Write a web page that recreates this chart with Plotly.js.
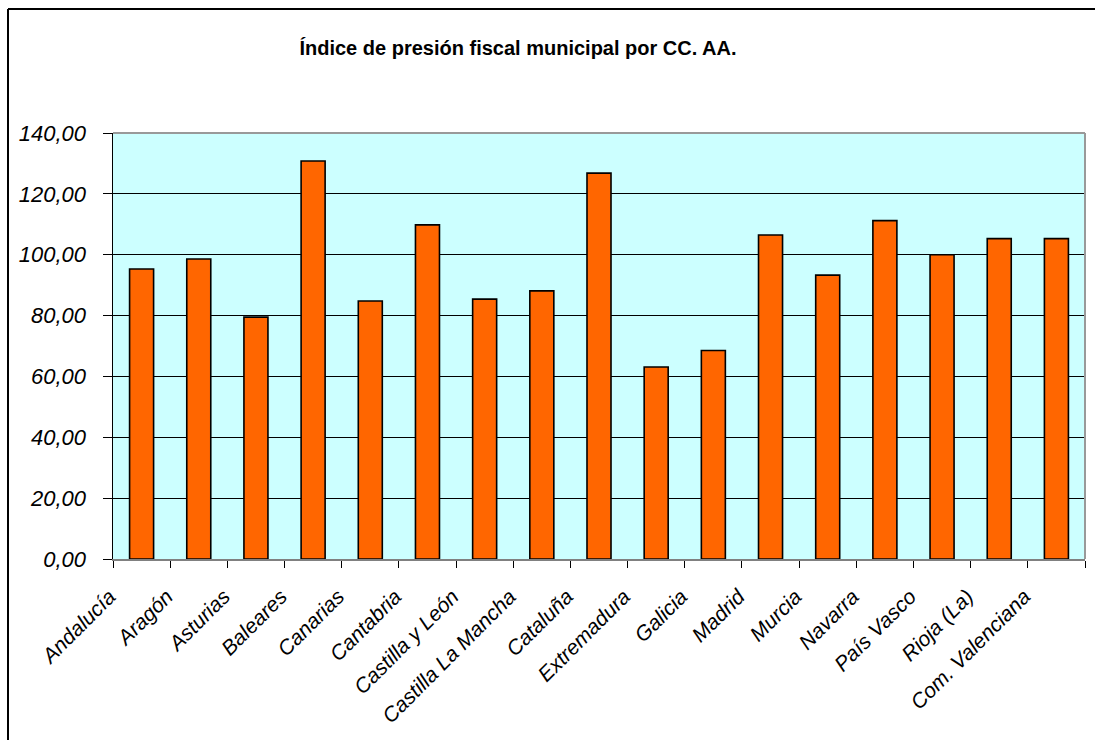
<!DOCTYPE html>
<html>
<head>
<meta charset="utf-8">
<script src="https://cdn.plot.ly/plotly-3.0.1.min.js"></script>
<style>
  html, body { margin: 0; padding: 0; background: #ffffff; }
  #chart { width: 1095px; height: 740px; }
</style>
</head>
<body>
<div id="chart"></div>
<script>
const categories = ["Andalucía", "Aragón", "Asturias", "Baleares", "Canarias", "Cantabria",
  "Castilla y León", "Castilla La Mancha", "Cataluña", "Extremadura", "Galicia", "Madrid",
  "Murcia", "Navarra", "País Vasco", "Rioja (La)", "Com. Valenciana"];
const values = [95.3, 98.6, 79.5, 130.8, 84.8, 109.8, 85.4, 88.1, 126.8, 63.1, 68.5, 106.5,
  93.3, 111.2, 100.0, 105.3, 105.3];
const yTicks = [0, 20, 40, 60, 80, 100, 120, 140];
const titleText = "Índice de presión fiscal municipal por CC. AA.";

const W = 1095, ML = 113, MR = 10, MT = 133, MB = 181, H = 740;
const pw = W - ML - MR, ph = H - MT - MB;
const px = v => (v - ML) / pw;
const py = v => (H - MB - v) / ph;

const font = "'Liberation Sans Narrow', 'Liberation Sans', Arial, sans-serif";

const trace = {
  type: "bar",
  x: categories,
  y: values,
  marker: { color: "#FF6600", line: { color: "#000000", width: 1.6 } },
  hoverinfo: "x+y"
};

const layout = {
  width: W, height: H,
  margin: { l: ML, r: MR, t: MT, b: MB, pad: 0 },
  paper_bgcolor: "#ffffff",
  plot_bgcolor: "#CCFFFF",
  separators: ",.",
  bargap: 0.58,
  showlegend: false,
  title: {
    text: "<b>" + titleText + "</b>",
    font: { family: font, size: 20, color: "#000000" },
    x: px(518), xref: "paper", xanchor: "center",
    y: 1 - 48 / H, yref: "container", yanchor: "middle"
  },
  xaxis: {
    type: "category",
    tickangle: -45,
    ticks: "outside", ticklen: 7, tickcolor: "#000000", tickwidth: 1,
    tickson: "boundaries",
    ticklabelshift: -32,
    ticklabelstandoff: 15,
    showline: true, linecolor: "#808080", linewidth: 2,
    showgrid: false,
    tickfont: { family: font, size: 21, color: "#000000", style: "italic" },
    fixedrange: true
  },
  yaxis: {
    range: [0, 140],
    tickvals: yTicks,
    tickformat: ".2f",
    ticks: "outside", ticklen: 9, tickcolor: "#000000", tickwidth: 1,
    ticklabelstandoff: 12,
    showline: true, linecolor: "#000000", linewidth: 1.5,
    showgrid: true, gridcolor: "#000000", gridwidth: 1,
    zeroline: false,
    tickfont: { family: font, size: 22, color: "#000000", style: "italic" },
    fixedrange: true
  },
  shapes: [
    { type: "line", xref: "paper", yref: "paper", x0: 0, x1: 1, y0: 1, y1: 1,
      line: { color: "#999999", width: 2 }, layer: "above" },
    { type: "line", xref: "paper", yref: "paper", x0: 1, x1: 1, y0: 0, y1: 1,
      line: { color: "#999999", width: 2 }, layer: "above" },
    { type: "line", xref: "paper", yref: "paper", x0: px(8), x1: px(1095), y0: py(9), y1: py(9),
      line: { color: "#000000", width: 2 } },
    { type: "line", xref: "paper", yref: "paper", x0: px(8), x1: px(8), y0: py(9), y1: py(740),
      line: { color: "#000000", width: 2 } }
  ]
};

Plotly.newPlot("chart", [trace], layout, { displayModeBar: false, staticPlot: true });
</script>
</body>
</html>
